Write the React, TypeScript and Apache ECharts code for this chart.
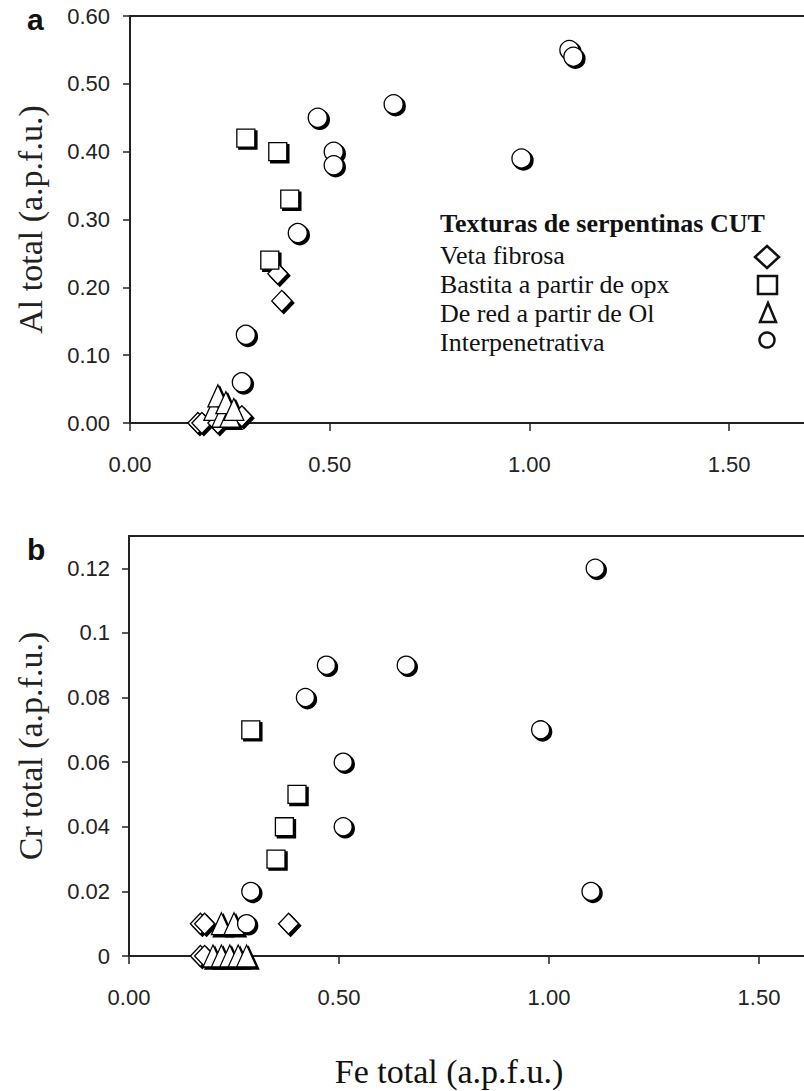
import React, { useEffect, useRef } from "react";
import * as echarts from "echarts";

// ---------- data ----------
const feTicks = [0, 0.5, 1.0, 1.5];
const alTicks = [0, 0.1, 0.2, 0.3, 0.4, 0.5, 0.6];
const crTicks = [0, 0.02, 0.04, 0.06, 0.08, 0.1, 0.12];

const legendNames = [
  "Veta fibrosa",
  "Bastita a partir de opx",
  "De red a partir de Ol",
  "Interpenetrativa",
];

// Panel a: Al total vs Fe total
const vetaFeA = [0.17, 0.18, 0.22, 0.28, 0.37, 0.38];
const vetaAl = [0.0, 0.0, 0.0, 0.01, 0.22, 0.18];
const bastitaFeA = [0.29, 0.37, 0.4, 0.35];
const bastitaAl = [0.42, 0.4, 0.33, 0.24];
const redFeA = [0.21, 0.23, 0.25, 0.22, 0.24, 0.26];
const redAl = [0.02, 0.01, 0.01, 0.04, 0.03, 0.02];
const interFeA = [1.1, 1.11, 0.66, 0.98, 0.47, 0.51, 0.51, 0.42, 0.29, 0.28];
const interAl = [0.55, 0.54, 0.47, 0.39, 0.45, 0.4, 0.38, 0.28, 0.13, 0.06];

// Panel b: Cr total vs Fe total
const vetaFeB = [0.17, 0.18, 0.17, 0.18, 0.38];
const vetaCr = [0.01, 0.01, 0.0, 0.0, 0.01];
const bastitaFeB = [0.29, 0.4, 0.37, 0.35];
const bastitaCr = [0.07, 0.05, 0.04, 0.03];
const redFeB = [0.2, 0.22, 0.24, 0.26, 0.28, 0.22, 0.25];
const redCr = [0.0, 0.0, 0.0, 0.0, 0.0, 0.01, 0.01];
const interFeB = [1.11, 0.66, 0.98, 0.47, 0.42, 0.51, 0.51, 0.29, 1.1, 0.28];
const interCr = [0.12, 0.09, 0.07, 0.09, 0.08, 0.06, 0.04, 0.02, 0.02, 0.01];

const zip = (xs: number[], ys: number[]) => xs.map((x, i) => [x, ys[i]]);

const AXIS = "#222";
const SERIF = "'Liberation Serif', 'Times New Roman', serif";
const SANS = "'Liberation Sans', Arial, sans-serif";

function markerSeries(
  name: string,
  symbol: string,
  size: number | number[],
  idx: number,
  data: number[][]
) {
  return [
    {
      type: "scatter",
      name: name + " shadow",
      xAxisIndex: idx,
      yAxisIndex: idx,
      symbol,
      symbolSize: size,
      symbolOffset: [2, 2],
      data,
      z: 2,
      silent: true,
      itemStyle: { color: "#000", borderColor: "#000", borderWidth: 1.5, opacity: 1 },
    },
    {
      type: "scatter",
      name,
      xAxisIndex: idx,
      yAxisIndex: idx,
      symbol,
      symbolSize: size,
      data,
      z: 3,
      itemStyle: { color: "#fff", borderColor: "#000", borderWidth: 1.3, opacity: 1 },
    },
  ];
}

export default function App() {
  const ref = useRef<HTMLDivElement>(null);

  useEffect(() => {
    if (!ref.current) return;
    const chart = echarts.init(ref.current, null, { renderer: "svg" });

    const xAxisBase = (gridIndex: number) => ({
      type: "value",
      gridIndex,
      min: 0,
      max: 1.75,
      splitLine: { show: false },
      axisLine: { onZero: false, lineStyle: { color: AXIS, width: 2 } },
      axisTick: {
        inside: false,
        length: 8,
        customValues: feTicks,
        lineStyle: { color: AXIS, width: 1.5 },
      },
      axisLabel: {
        customValues: feTicks,
        margin: 30,
        fontFamily: SANS,
        fontSize: 22,
        color: AXIS,
        formatter: (v: number) => v.toFixed(2),
      },
    });

    const option = {
      animation: false,
      backgroundColor: "#fff",
      grid: [
        {
          left: 130,
          top: 16,
          width: 699,
          height: 407,
          show: true,
          borderColor: AXIS,
          borderWidth: 2,
          backgroundColor: "transparent",
        },
        {
          left: 129,
          top: 536,
          width: 735,
          height: 420,
          show: true,
          borderColor: AXIS,
          borderWidth: 2,
          backgroundColor: "transparent",
        },
      ],
      xAxis: [xAxisBase(0), xAxisBase(1)],
      yAxis: [
        {
          type: "value",
          gridIndex: 0,
          min: 0,
          max: 0.6,
          splitLine: { show: false },
          axisLine: { show: true, onZero: false, lineStyle: { color: AXIS, width: 2 } },
          axisTick: {
            show: true,
            inside: false,
            length: 7,
            customValues: alTicks,
            lineStyle: { color: AXIS, width: 1.5 },
          },
          axisLabel: {
            customValues: alTicks,
            margin: 20,
            fontFamily: SANS,
            fontSize: 22,
            color: AXIS,
            formatter: (v: number) => v.toFixed(2),
          },
          name: "Al total (a.p.f.u.)",
          nameLocation: "middle",
          nameGap: 83,
          nameTextStyle: { fontFamily: SERIF, fontSize: 34, color: AXIS },
        },
        {
          type: "value",
          gridIndex: 1,
          min: 0,
          max: 0.13,
          splitLine: { show: false },
          axisLine: { show: true, onZero: false, lineStyle: { color: AXIS, width: 2 } },
          axisTick: {
            show: true,
            inside: false,
            length: 7,
            customValues: crTicks,
            lineStyle: { color: AXIS, width: 1.5 },
          },
          axisLabel: {
            customValues: crTicks,
            margin: 19,
            fontFamily: SANS,
            fontSize: 22,
            color: AXIS,
            formatter: (v: number) => (v === 0 ? "0" : String(parseFloat(v.toFixed(2)))),
          },
          name: "Cr total (a.p.f.u.)",
          nameLocation: "middle",
          nameGap: 82,
          nameTextStyle: { fontFamily: SERIF, fontSize: 34, color: AXIS },
        },
      ],
      series: [
        ...markerSeries(legendNames[0], "diamond", [20, 21], 0, zip(vetaFeA, vetaAl)),
        ...markerSeries(legendNames[1], "rect", 18, 0, zip(bastitaFeA, bastitaAl)),
        ...markerSeries(legendNames[2], "triangle", [20, 22], 0, zip(redFeA, redAl)),
        ...markerSeries(legendNames[3], "circle", 19, 0, zip(interFeA, interAl)),
        ...markerSeries(legendNames[0], "diamond", [20, 21], 1, zip(vetaFeB, vetaCr)),
        ...markerSeries(legendNames[1], "rect", 18, 1, zip(bastitaFeB, bastitaCr)),
        ...markerSeries(legendNames[2], "triangle", [20, 22], 1, zip(redFeB, redCr)),
        ...markerSeries(legendNames[3], "circle", 18, 1, zip(interFeB, interCr)),
      ],
      graphic: [
        {
          type: "text",
          x: 27,
          y: 19,
          style: { text: "a", font: `bold 30px ${SANS}`, fill: "#111", align: "left", verticalAlign: "middle" },
        },
        {
          type: "text",
          x: 27,
          y: 549,
          style: { text: "b", font: `bold 30px ${SANS}`, fill: "#111", align: "left", verticalAlign: "middle" },
        },
        {
          type: "text",
          x: 440,
          y: 223,
          style: {
            text: "Texturas de serpentinas CUT",
            font: `bold 26px ${SERIF}`,
            fill: "#111",
            align: "left",
            verticalAlign: "middle",
          },
        },
        ...legendNames.map((t, i) => ({
          type: "text",
          x: 440,
          y: 255 + i * 29,
          style: { text: t, font: `26px ${SERIF}`, fill: "#111", align: "left", verticalAlign: "middle" },
        })),
        {
          type: "polygon",
          shape: { points: [[767, 246], [779, 257], [767, 268], [755, 257]] },
          style: { fill: "#fff", stroke: "#111", lineWidth: 2.5 },
        },
        {
          type: "rect",
          shape: { x: 758, y: 276, width: 19, height: 18 },
          style: { fill: "#fff", stroke: "#111", lineWidth: 2.5 },
        },
        {
          type: "polygon",
          shape: { points: [[768, 303], [776, 322], [760, 322]] },
          style: { fill: "#fff", stroke: "#111", lineWidth: 2.5 },
        },
        {
          type: "circle",
          shape: { cx: 767, cy: 340, r: 7.5 },
          style: { fill: "#fff", stroke: "#111", lineWidth: 2.5 },
        },
        {
          type: "text",
          x: 449,
          y: 1071,
          style: {
            text: "Fe total (a.p.f.u.)",
            font: `34px ${SERIF}`,
            fill: "#111",
            align: "center",
            verticalAlign: "middle",
          },
        },
      ],
    };

    chart.setOption(option as any);
    return () => chart.dispose();
  }, []);

  return (
    <div
      style={{
        position: "fixed",
        left: 0,
        top: 0,
        width: 804,
        height: 1091,
        overflow: "hidden",
        background: "#fff",
      }}
    >
      <div ref={ref} style={{ width: 900, height: 1091 }} />
    </div>
  );
}
